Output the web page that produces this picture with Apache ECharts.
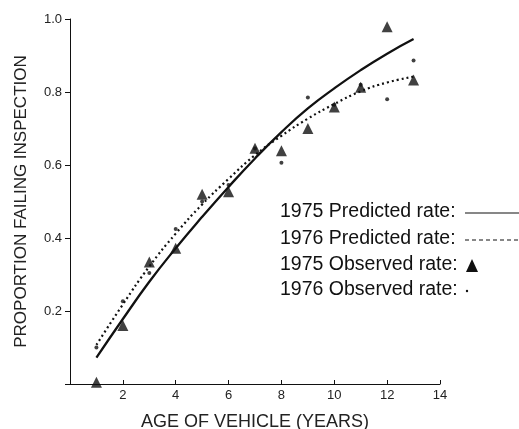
<!DOCTYPE html>
<html>
<head>
<meta charset="utf-8">
<script src="https://cdn.jsdelivr.net/npm/echarts@6/dist/echarts.min.js"></script>
<style>
html,body{margin:0;padding:0;background:#fff;}
#c{width:519px;height:429px;}
</style>
</head>
<body>
<div id="c"></div>
<script>
// Ages (years)
var ages = [1, 2, 3, 4, 5, 6, 7, 8, 9, 10, 11, 12, 13];
// Predicted failure rates
var predicted1975 = [0.072, 0.178, 0.28, 0.372, 0.458, 0.54, 0.618, 0.69, 0.755, 0.81, 0.86, 0.905, 0.945];
var predicted1976 = [0.107, 0.218, 0.322, 0.412, 0.492, 0.562, 0.627, 0.68, 0.727, 0.767, 0.802, 0.826, 0.842];
// Observed failure rates
var observed1975 = [0.005, 0.16, 0.334, 0.372, 0.52, 0.527, 0.646, 0.639, 0.70, 0.759, 0.813, 0.979, 0.833];
var observed1976 = [0.10, 0.227, 0.304, 0.425, 0.50, 0.545, 0.645, 0.606, 0.785, 0.765, 0.82, 0.78, 0.886];
// Tick labels
var xTicks = [2, 4, 6, 8, 10, 12, 14];
var yTicks = ['0.2', '0.4', '0.6', '0.8', '1.0'];
var legendLabels = ['1975 Predicted rate:', '1976 Predicted rate:', '1975 Observed rate:', '1976 Observed rate:'];

function pairs(xs, ys) { return xs.map(function (x, i) { return [x, ys[i]]; }); }

var FONT = 'Liberation Sans, Arial, sans-serif';
var chart = echarts.init(document.getElementById('c'));

var legendY = [213, 240, 266, 291];
var graphics = legendLabels.map(function (t, i) {
  return { type: 'text', left: 280, top: legendY[i] - 11,
    style: { text: t, font: '19.5px ' + FONT, fill: '#111' } };
});
graphics.push({ type: 'line', shape: { x1: 465, y1: legendY[0], x2: 519, y2: legendY[0] }, style: { stroke: '#111', lineWidth: 1.2 } });
graphics.push({ type: 'line', shape: { x1: 465, y1: legendY[1], x2: 519, y2: legendY[1] }, style: { stroke: '#111', lineWidth: 1.2, lineDash: [4, 3] } });
graphics.push({ type: 'polygon', shape: { points: [[472, legendY[2] - 7], [466, legendY[2] + 6], [478, legendY[2] + 6]] }, style: { fill: '#111' } });
graphics.push({ type: 'circle', shape: { cx: 467, cy: legendY[3], r: 1.2 }, style: { fill: '#111' } });

chart.setOption({
  animation: false,
  backgroundColor: '#fff',
  grid: { left: 70, right: 79, top: 19, bottom: 45, containLabel: false, outerBoundsMode: 'none' },
  xAxis: {
    type: 'value', min: 0, max: 14, interval: 2,
    name: 'AGE OF VEHICLE (YEARS)', nameLocation: 'middle', nameGap: 29,
    nameTextStyle: { fontFamily: FONT, fontSize: 18, color: '#222' },
    axisLine: { lineStyle: { color: '#111', width: 1 } },
    axisTick: { inside: true, length: 4, lineStyle: { color: '#111' } },
    axisLabel: { fontFamily: FONT, fontSize: 13, color: '#222', margin: 5,
      formatter: function (v) { return xTicks.indexOf(v) >= 0 ? String(v) : ''; } },
    splitLine: { show: false }
  },
  yAxis: {
    type: 'value', min: 0, max: 1, interval: 0.2,
    name: 'PROPORTION FAILING INSPECTION', nameLocation: 'middle', nameGap: 40,
    nameTextStyle: { fontFamily: FONT, fontSize: 17, color: '#222' },
    axisLine: { show: true, lineStyle: { color: '#111', width: 1 } },
    axisTick: { show: true, length: 5, lineStyle: { color: '#111' } },
    axisLabel: { fontFamily: FONT, fontSize: 13, color: '#222', margin: 8,
      formatter: function (v) { var s = v.toFixed(1); return yTicks.indexOf(s) >= 0 ? s : ''; } },
    splitLine: { show: false }
  },
  graphic: graphics,
  series: [
    { name: legendLabels[0], type: 'line', smooth: true, showSymbol: false,
      data: pairs(ages, predicted1975), lineStyle: { color: '#111', width: 2.3 }, z: 3 },
    { name: legendLabels[1], type: 'line', smooth: true, showSymbol: false,
      data: pairs(ages, predicted1976), lineStyle: { color: '#111', width: 2.2, type: [2, 3] }, z: 3 },
    { name: legendLabels[2], type: 'scatter', symbol: 'triangle', symbolSize: [11, 11],
      data: pairs(ages, observed1975), itemStyle: { color: '#111' }, z: 4 },
    { name: legendLabels[3], type: 'scatter', symbol: 'circle', symbolSize: 4,
      data: pairs(ages, observed1976), itemStyle: { color: '#111' }, z: 4 }
  ]
});
</script>
</body>
</html>
